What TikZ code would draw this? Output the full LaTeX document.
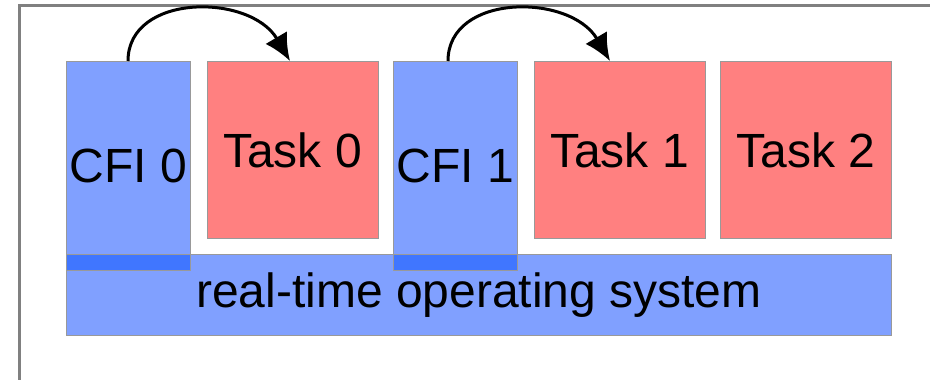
\documentclass[tikz,border=0pt]{standalone}
\usepackage{fontspec}
\setmainfont{Liberation Sans}
\usetikzlibrary{arrows.meta,calc}
\definecolor{boxblue}{HTML}{80A0FF}
\definecolor{boxred}{HTML}{FF8080}
\definecolor{darkblue}{HTML}{4076FF}
\definecolor{edgegray}{HTML}{999999}
\definecolor{framegray}{HTML}{808080}
\tikzset{
  blockbase/.style={rectangle, draw=edgegray, line width=0.8pt, inner sep=0pt, anchor=north west,
    font=\fontsize{48}{54}\selectfont},
  cfibox/.style={blockbase, fill=boxblue, minimum width=124pt, minimum height=209pt},
  taskbox/.style={blockbase, fill=boxred, minimum width=171pt, minimum height=177pt},
  rtosbox/.style={blockbase, fill=boxblue, minimum width=825pt, minimum height=81pt},
  hop/.style={line width=3pt, -{Latex[length=27pt,width=25pt]}},
}
\begin{document}
\begin{tikzpicture}[x=1pt,y=-1pt]
\useasboundingbox (0,0) rectangle (930,380);
% outer frame
\draw[framegray, line width=3pt] (19,390) -- (19,5) -- (940,5);
% real-time operating system
\node[rtosbox] (rtos) at (66,254) {real-time operating system};
% CFI boxes
\node[cfibox] (cfi0) at (66,61) {CFI 0};
\node[cfibox] (cfi1) at (393,61) {CFI 1};
% overlaps
\filldraw[fill=darkblue, draw=edgegray, line width=0.8pt] (66,254) rectangle (190,270);
\filldraw[fill=darkblue, draw=edgegray, line width=0.8pt] (393,254) rectangle (517,270);
% tasks
\node[taskbox] (task0) at (206.5,61) {Task 0};
\node[taskbox] (task1) at (533.5,61) {Task 1};
\node[taskbox] (task2) at (720,61) {Task 2};
% arrows
\coordinate (s0) at ($(cfi0.north west)+(62,0)$);
\coordinate (e0) at ($(task0.north west)+(83.5,0)$);
\coordinate (s1) at ($(cfi1.north west)+(55,0)$);
\coordinate (e1) at ($(task1.north west)+(76.5,0)$);
\draw[hop] (s0) .. controls ($(s0)+(0,-68)$) and ($(e0)+(-40,-68)$) .. (e0);
\draw[hop] (s1) .. controls ($(s1)+(0,-68)$) and ($(e1)+(-40,-68)$) .. (e1);
\end{tikzpicture}
\end{document}
